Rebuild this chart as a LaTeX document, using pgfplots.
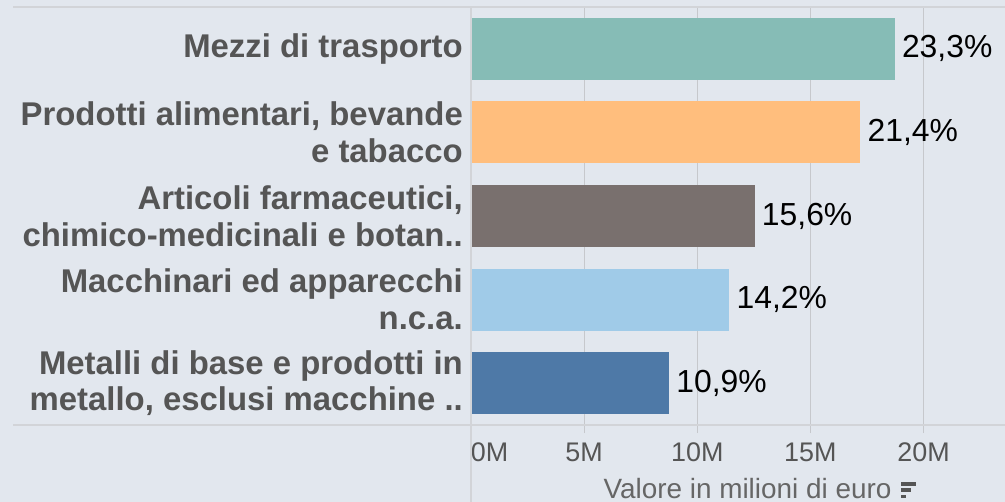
\documentclass[border=0pt]{standalone}
\usepackage{fontspec}
\setmainfont{Liberation Sans}
\usepackage{pgfplots}
\pgfplotsset{compat=1.18}

\definecolor{bg}{HTML}{E2E7EE}
\definecolor{gridc}{HTML}{C6C8CC}
\definecolor{linec}{HTML}{D2D4D8}
\definecolor{labc}{HTML}{555555}
\definecolor{titc}{HTML}{666666}
\definecolor{c1}{HTML}{86BCB6}
\definecolor{c2}{HTML}{FFBE7D}
\definecolor{c3}{HTML}{79706E}
\definecolor{c4}{HTML}{A0CBE8}
\definecolor{c5}{HTML}{4E79A7}

% little sort icon next to the axis title
\newcommand{\sorticon}{\textcolor{labc}{\vbox{\offinterlineskip
  \hbox{\vrule width 15bp height 3.5bp depth 0pt}
  \vskip 2.75bp\hbox{\vrule width 10bp height 3.5bp depth 0pt}
  \vskip 2.75bp\hbox{\vrule width 4.5bp height 3.5bp depth 0pt}}}}

\begin{document}
\begin{tikzpicture}
\path[fill=bg, use as bounding box] (0,0) rectangle (1005bp,502bp);
\begin{axis}[
    at={(471bp,77bp)}, anchor=south west,
    scale only axis, width=534bp, height=418bp,
    xmin=0, xmax=23.6, ymin=-0.5, ymax=4.5,
    xbar, bar width=62bp, bar shift=0pt,
    axis line style={draw=none},
    clip=false,
    xmajorgrids, grid style={gridc, line width=1bp},
    tick align=outside, major tick length=8bp,
    xtick pos=bottom, ytick pos=left,
    xtick style={gridc, line width=1bp},
    ytick style={draw=none},
    xtick={0,5,10,15,20},
    xticklabels={\hphantom{0M}0M,5M,10M,15M,20M},
    xticklabel style={font=\fontsize{27}{30}\selectfont, text=labc,
        anchor=north, inner sep=0pt, yshift=-10bp},
    ytick={0,1,2,3,4},
    yticklabels={
        {Metalli di base e prodotti in\\metallo, esclusi macchine ..},
        {Macchinari ed apparecchi\\n.c.a.},
        {Articoli farmaceutici,\\chimico-medicinali e botan..},
        {Prodotti alimentari, bevande\\e tabacco},
        {Mezzi di trasporto}},
    yticklabel style={font=\fontsize{33}{37}\selectfont\bfseries, text=labc,
        align=right, inner sep=0pt, xshift=0bp},
    xlabel={Valore in milioni di euro\hspace{10bp}\sorticon},
    xlabel style={at={(axis description cs:0.5,0)}, anchor=base,
        yshift=-73bp, xshift=22bp, inner sep=0pt,
        font=\fontsize{28}{30}\selectfont, text=titc},
    point meta=explicit symbolic,
    nodes near coords,
    every node near coord/.append style={font=\fontsize{32}{36}\selectfont,
        text=black, anchor=west, inner sep=0pt, xshift=7bp},
]
\addplot[fill=c1, draw=none] coordinates {(18.73,4) [23,3\%]};
\addplot[fill=c2, draw=none] coordinates {(17.21,3) [21,4\%]};
\addplot[fill=c3, draw=none] coordinates {(12.54,2) [15,6\%]};
\addplot[fill=c4, draw=none] coordinates {(11.42,1) [14,2\%]};
\addplot[fill=c5, draw=none] coordinates {(8.76,0) [10,9\%]};
\end{axis}
% frame lines that run under the labels, as in the original
\draw[linec, line width=1.2bp] (13bp,495bp) -- (1005bp,495bp);
\draw[linec, line width=1.2bp] (13bp,77bp) -- (1005bp,77bp);
\draw[linec, line width=1.2bp] (471bp,0bp) -- (471bp,495bp);
\end{tikzpicture}
\end{document}
